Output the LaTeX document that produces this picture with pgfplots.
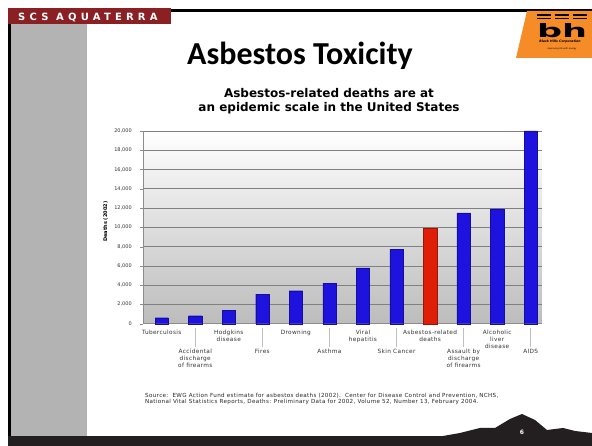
\documentclass[border=0pt]{standalone}
\usepackage{fontspec}
\setmainfont{DejaVu Sans}
\newfontfamily\carlito{Carlito}
\newfontfamily\hdrfont[LetterSpace=42]{DejaVu Sans}
\newfontfamily\lsfont[LetterSpace=6]{DejaVu Sans}
\usepackage{graphicx}
\usepackage{pgfplots}
\pgfplotsset{compat=1.18}
\definecolor{maroonbar}{RGB}{139,32,36}
\definecolor{panelgray}{RGB}{179,179,179}
\definecolor{darkbar}{RGB}{35,31,32}
\definecolor{logoorange}{RGB}{245,140,40}
\definecolor{barblue}{RGB}{30,18,222}
\definecolor{barred}{RGB}{222,30,6}
\begin{document}
\begin{tikzpicture}[x=1pt,y=1pt]
% slide background and decorations
\fill[white] (0,0) rectangle (592,446);
\fill[panelgray] (11,10) rectangle (87,422);
\fill[black] (8,0) rectangle (11,438);
\fill[maroonbar] (8,422) rectangle (171,438);
\fill[black] (171,434.3) rectangle (592,437);
\fill[darkbar] (8,0) rectangle (592,10);
\fill[darkbar] (443,10) -- (460,13) -- (480,18) -- (495,18) -- (510,27) -- (522,32) -- (535,26) -- (547,16) -- (563,18) -- (575,15) -- (592,13) -- (592,10) -- cycle;
\node[white, font=\bfseries\fontsize{6}{7}\selectfont] at (522,14) {6};
\node[white, anchor=base west, inner sep=0, font=\hdrfont\bfseries\fontsize{10}{11}\selectfont] at (18,425.3) {SCS AQUATERRA};
% logo
\fill[logoorange] (527,435) -- (592,435) -- (592,388) -- (516,388) -- cycle;
\foreach \xx in {537,555,573}{\fill[black] (\xx,430) rectangle ++(14,1.5); \fill[black] (\xx,427) rectangle ++(14,1.2);}
\node[inner sep=0] at (562,415.5) {\resizebox{50pt}{14pt}{\bfseries bh}};
\node[inner sep=0, font=\bfseries\itshape\fontsize{3.2}{4}\selectfont] at (560,404) {Black Hills Corporation};
\node[inner sep=0, font=\itshape\fontsize{2.2}{3}\selectfont] at (562,397.5) {improving life with energy};
% titles
\node[anchor=base, inner sep=0, font=\carlito\bfseries\fontsize{32}{34}\selectfont] at (300,381) {Asbestos Toxicity};
\node[anchor=base, inner sep=0, font=\bfseries\fontsize{12}{14}\selectfont] at (329,348) {Asbestos-related deaths are at};
\node[anchor=base, inner sep=0, font=\bfseries\fontsize{12}{14}\selectfont] at (329,334) {an epidemic scale in the United States};
% source
\node[anchor=base west, inner sep=0, font=\lsfont\fontsize{5.6}{6}\selectfont, text=black!85] at (145,48) {Source:\ \ EWG Action Fund estimate for asbestos deaths (2002).\ \ Center for Disease Control and Prevention, NCHS,};
\node[anchor=base west, inner sep=0, font=\lsfont\fontsize{5.6}{6}\selectfont, text=black!85] at (145,42) {National Vital Statistics Reports, Deaths: Preliminary Data for 2002, Volume 52, Number 13, February 2004.};
\begin{axis}[
  at={(143.3pt,122.3pt)}, anchor=south west,
  scale only axis, width=398.5pt, height=192.7pt,
  xmin=0.452, xmax=12.33, ymin=0, ymax=20000,
  clip=false,
  axis background/.style={top color=white, bottom color={rgb,255:red,188;green,188;blue,188}},
  axis x line*=bottom, axis y line*=left,
  axis line style={draw=black!45},
  ytick={0,2000,...,20000},
  ymajorgrids, major grid style={draw=black!50, line width=0.7pt},
  scaled y ticks=false,
  /pgf/number format/1000 sep={,},
  /pgf/number format/assume math mode=true,
  yticklabel style={font=\fontsize{5}{6}\selectfont, text=black!80, xshift=-5pt},
  ytick style={draw=black!45},
  tick align=outside, major tick length=3pt,
  xtick={1,3,5,7,9,11},
  xticklabels={Tuberculosis,{Hodgkins\\disease},Drowning,{Viral\\hepatitis},{Asbestos-related\\deaths},{Alcoholic\\liver\\disease}},
  xtick style={draw=none},
  xticklabel style={font=\lsfont\fontsize{5.8}{7}\selectfont, align=center, text=black!80},
  extra x ticks={2,4,6,8,10,12},
  extra x tick labels={{Accidental\\discharge\\of firearms},Fires,Asthma,{Skin Cancer},{Assault by\\discharge\\of firearms},AIDS},
  extra x tick style={xticklabel style={yshift=-19pt}, tick style={draw=none}},
  ylabel={Deaths (2002)},
  ylabel style={at={(axis description cs:-0.095,0.53)}, anchor=center, font=\bfseries\fontsize{5}{6}\selectfont},
]
\addplot[ybar, bar width=13.3pt, bar shift=0pt, fill=barblue, draw=barblue!70!black, line width=0.3pt]
  coordinates {(1,620) (2,830) (3,1390) (4,3080) (5,3420) (6,4190) (7,5800) (8,7710) (10,11500) (11,11920) (12,20000)};
\addplot[ybar, bar width=13.3pt, bar shift=0pt, fill=barred, draw=barred!70!black, line width=0.3pt]
  coordinates {(9,9950)};
\pgfplotsinvokeforeach{2,4,6,8,10,12}{\draw[black!25, line width=0.6pt] ([yshift=-4.5pt]axis cs:#1,0) -- ([yshift=-23pt]axis cs:#1,0);}
\end{axis}
\end{tikzpicture}
\end{document}
